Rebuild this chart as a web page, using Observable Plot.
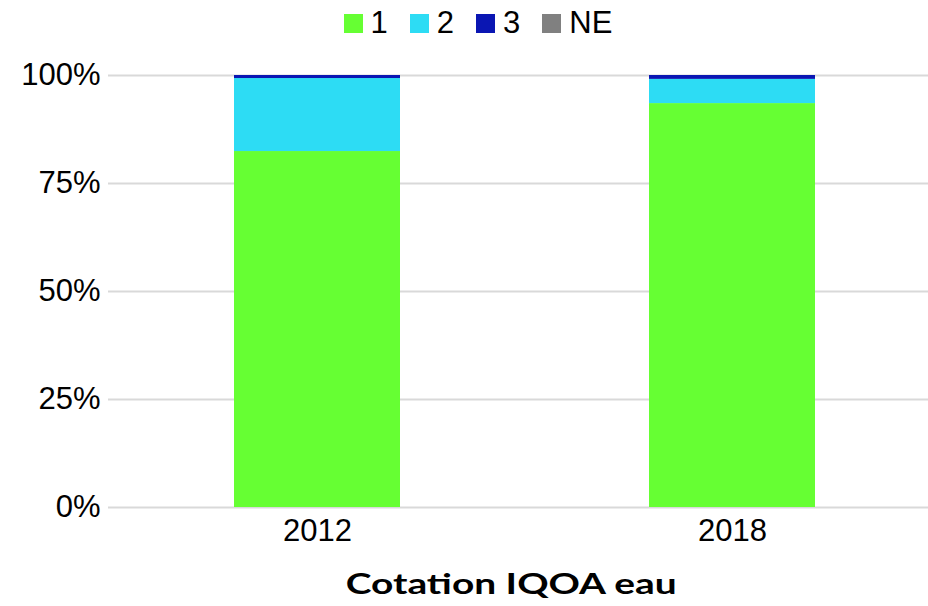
<!DOCTYPE html>
<html>
<head>
<meta charset="utf-8">
<script src="https://cdn.jsdelivr.net/npm/d3@7"></script>
<script src="https://cdn.jsdelivr.net/npm/@observablehq/plot@0.6"></script>
<style>
  body { margin: 0; background: #fff; width: 928px; height: 606px; overflow: hidden; font-family: "Liberation Sans", Arial, sans-serif; position: relative; }
  #legend { height: 46px; display: flex; justify-content: center; align-items: center; font-size: 31px; color: #000; padding-left: 28px; box-sizing: border-box; }
  .item { display: flex; align-items: center; margin: 0 11px; }
  .sw { width: 19px; height: 19px; margin-right: 8px; }
  #title { position: absolute; left: 0; top: 560px; width: 928px; text-align: center; font-family: Lato, "Open Sans", sans-serif; font-weight: bold; font-size: 28px; color: #000; padding-left: 95px; box-sizing: border-box; line-height: 46px; height: 46px; }
  #titletext { display: inline-block; white-space: nowrap; transform-origin: 50% 50%; }
</style>
</head>
<body>
<div id="legend"></div>
<div id="chart"></div>
<div id="title"><span id="titletext">Cotation IQOA eau</span></div>
<script>
const years = ["2012", "2018"];
const categories = ["1", "2", "3", "NE"];
const colors = ["#66ff33", "#2ddcf4", "#0a16b3", "#808080"];
const values2012 = [82.4, 16.9, 0.7, 0];
const values2018 = [93.5, 5.6, 0.9, 0];
const yTicks = [0, 25, 50, 75, 100];

const series = { "2012": values2012, "2018": values2018 };
const data = [];
for (const y of years) {
  categories.forEach((c, i) => data.push({ year: y, cat: c, value: series[y][i] }));
}

const legend = document.getElementById("legend");
categories.forEach((c, i) => {
  const it = document.createElement("div");
  it.className = "item";
  const sw = document.createElement("span");
  sw.className = "sw";
  sw.style.background = colors[i];
  const t = document.createElement("span");
  t.textContent = c;
  it.appendChild(sw); it.appendChild(t);
  legend.appendChild(it);
});

const chart = Plot.plot({
  width: 928,
  height: 514,
  marginTop: 29,
  marginBottom: 53,
  marginLeft: 108,
  marginRight: 0,
  style: { fontFamily: "'Liberation Sans', Arial, sans-serif", fontSize: "31px", color: "#000", background: "#fff" },
  x: { domain: years, paddingInner: 0.6, paddingOuter: 0.286, align: 0.526, label: null },
  y: { domain: [0, 100], label: null },
  color: { domain: categories, range: colors },
  marks: [
    Plot.ruleY(yTicks, { stroke: "#d9d9d9", strokeWidth: 2 }),
    Plot.barY(data, Plot.stackY({ x: "year", y: "value", fill: "cat", order: categories })),
    Plot.axisX({ tickSize: 0, tickPadding: 11, fontSize: 31 }),
    Plot.axisY({ ticks: yTicks, tickFormat: d => d + "%", tickSize: 0, tickPadding: 8, fontSize: 31 })
  ]
});
document.getElementById("chart").appendChild(chart);

// the reference title is horizontally stretched: scale it to ~331px wide
const tt = document.getElementById("titletext");
const w = tt.getBoundingClientRect().width;
tt.style.transform = "scaleX(" + (331 / w) + ")";
</script>
</body>
</html>
